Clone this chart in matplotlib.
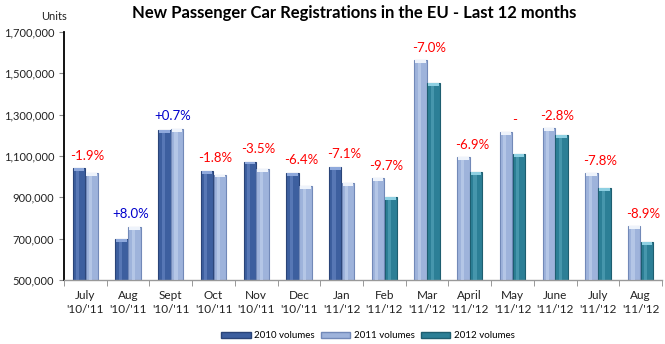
import matplotlib
matplotlib.use("Agg")
import matplotlib.pyplot as plt
from matplotlib.ticker import FuncFormatter, FixedLocator
from matplotlib.patches import Patch
import numpy as np

plt.rcParams['font.family'] = ['Lato', 'DejaVu Sans']

months = ["July\n'10/'11", "Aug\n'10/'11", "Sept\n'10/'11", "Oct\n'10/'11", "Nov\n'10/'11",
          "Dec\n'10/'11", "Jan\n'11/'12", "Feb\n'11/'12", "Mar\n'11/'12", "April\n'11/'12",
          "May\n'11/'12", "June\n'11/'12", "July\n'11/'12", "Aug\n'11/'12"]
prev_vals = [1040000, 700000, 1224000, 1029000, 1073000, 1019000, 1048000,
             992000, 1564000, 1093000, 1214000, 1235000, 1016000, 761000]
curr_vals = [1019000, 758000, 1231000, 1010000, 1035000, 955000, 971000,
             900000, 1455000, 1024000, 1110000, 1203000, 943000, 685000]
prev_year = [2010] * 7 + [2011] * 7
curr_year = [2011] * 7 + [2012] * 7
changes = ['-1.9%', '+8.0%', '+0.7%', '-1.8%', '-3.5%', '-6.4%', '-7.1%',
           '-9.7%', '-7.0%', '-6.9%', '-', '-2.8%', '-7.8%', '-8.9%']
legend_labels = ['2010 volumes', '2011 volumes', '2012 volumes']
yticks = [500000, 700000, 900000, 1100000, 1300000, 1500000, 1700000]

face = {2010: '#3D5F9F', 2011: '#9EB3DB', 2012: '#2C7F96'}
edge = {2010: '#2A4478', 2011: '#7289B8', 2012: '#1E5E70'}
cap = {2010: '#8FA9DC', 2011: '#EEF3FB', 2012: '#8ED0E2'}
light = {2010: '#6A88C4', 2011: '#C4D3EE', 2012: '#58A6BC'}

fig = plt.figure(figsize=(6.65, 3.44), dpi=100)
ax = fig.add_axes([64/665, 1 - 280/344, 598/665, 248/344])

x = np.arange(len(months))
w = 0.29
off = 0.15
cap_h = 14000
for xs, vals, yrs in ((x - off, prev_vals, prev_year), (x + off, curr_vals, curr_year)):
    ax.bar(xs, vals, width=w, color=[face[y] for y in yrs],
           edgecolor=[edge[y] for y in yrs], linewidth=0.8, zorder=2)
    # light inner highlight stripe
    ax.bar(xs - w * 0.1, vals, width=w * 0.25,
           color=[light[y] for y in yrs], alpha=0.6, linewidth=0, zorder=3)
    # light cap at the top of each bar
    ax.bar(xs, [cap_h] * len(vals), bottom=[v - cap_h for v in vals], width=w * 0.85,
           color=[cap[y] for y in yrs], linewidth=0, zorder=4)

for i, lab in enumerate(changes):
    top = max(prev_vals[i], curr_vals[i])
    col = '#0000CC' if lab.startswith('+') else '#FF0000'
    ax.annotate(lab, (x[i] + 0.05, top), xytext=(0, 9), textcoords='offset points',
                ha='center', va='center', color=col, fontsize=9.5)

ax.set_xlim(-0.5, len(months) - 0.5)
ax.set_ylim(500000, 1700000)
ax.set_yticks(yticks)
ax.yaxis.set_major_formatter(FuncFormatter(lambda v, p: f"{int(v):,}"))
ax.tick_params(axis='y', labelsize=8, length=3.5, color='#888888', pad=3.5, labelcolor='#222222')

ax.set_xticks(x)
ax.set_xticklabels(months, fontsize=8.5, color='#222222', linespacing=1.4)
ax.tick_params(axis='x', which='major', length=0, pad=7)
ax.xaxis.set_minor_locator(FixedLocator(np.arange(-0.5, len(months), 1.0)))
ax.tick_params(axis='x', which='minor', length=4, color='#888888')

for s in ('top', 'right'):
    ax.spines[s].set_visible(False)
ax.spines['left'].set_color('#000000')
ax.spines['left'].set_linewidth(1.3)
ax.spines['bottom'].set_color('#999999')
ax.spines['bottom'].set_linewidth(1.0)

fig.text(354/665, 1 - 13/344, 'New Passenger Car Registrations in the EU - Last 12 months',
         ha='center', va='center', fontsize=12, fontweight='bold', color='#000000')
fig.text(54/665, 1 - 17/344, 'Units', ha='center', va='center', fontsize=8, color='#222222')

handles = [Patch(facecolor=face[yr], edgecolor=edge[yr]) for yr in (2010, 2011, 2012)]
fig.legend(handles, legend_labels, loc='center', bbox_to_anchor=(368/665, 1 - 336/344),
           ncol=3, frameon=False, fontsize=7, handlelength=3.0, handleheight=0.55,
           handletextpad=0.4, columnspacing=0.6)

fig.savefig('out.png', dpi=100)
